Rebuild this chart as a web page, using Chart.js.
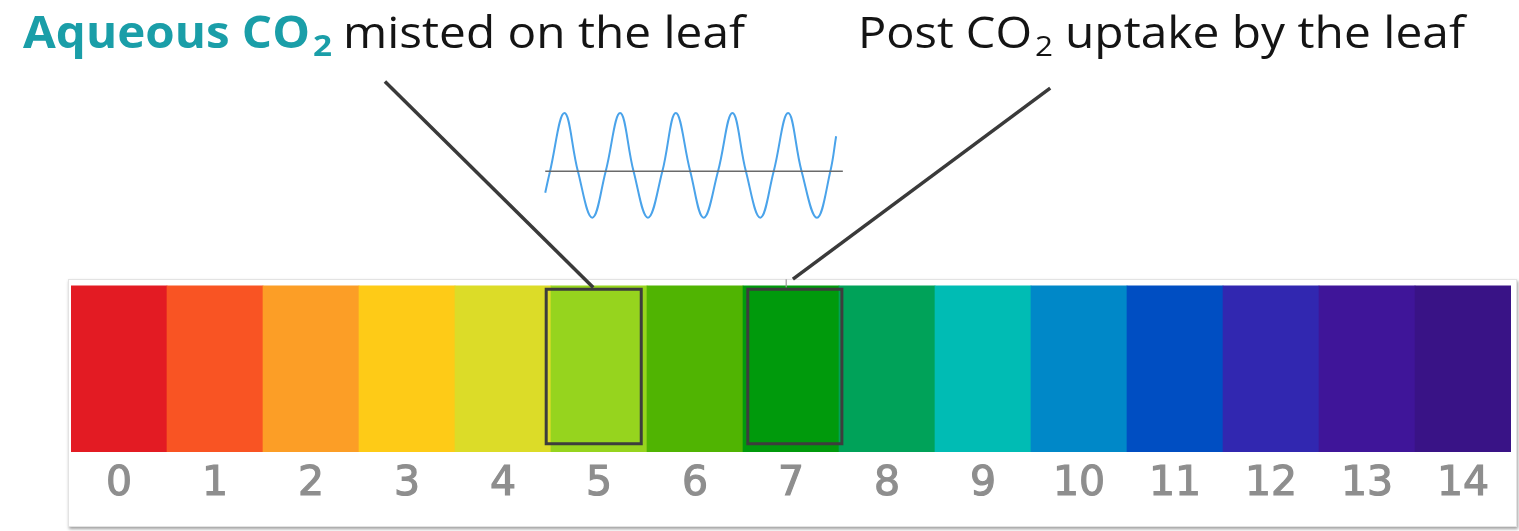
<!DOCTYPE html>
<html><head><meta charset="utf-8">
<script src="https://cdn.jsdelivr.net/npm/chart.js@4/dist/chart.umd.min.js"></script>
<style>
html,body{margin:0;padding:0;background:#fff;}
#wrap{position:relative;width:1519px;height:531px;overflow:hidden;}
#panel{position:absolute;left:68px;top:279px;width:1447px;height:246px;background:#fff;border:1px solid #e3e3e3;box-shadow:1px 2px 3px rgba(0,0,0,0.38);}
canvas{position:absolute;left:0;top:0;}
</style></head><body>
<div id="wrap"><div id="panel"></div><canvas id="c" width="1519" height="531"></canvas></div>
<script>
// ---- data ----
const phLabels = ['0','1','2','3','4','5','6','7','8','9','10','11','12','13','14'];
const phValues = [1,1,1,1,1,1,1,1,1,1,1,1,1,1,1];
const phColors = ['#e31b23','#f95423','#fc9e26','#fecb17','#dcdc28','#96d41e','#50b402','#009a0c',
                  '#00a259','#00bcb4','#0088c8','#004ec2','#3127b0','#3f1599','#391386'];

// highlight boxes (pH 5 = misted, pH 7 = post uptake)
const box5X = [4.45, 5.44];
const box7X = [6.55, 7.53];
const boxY  = [0.05, 0.98];

// decorative wave
const waveX = [4.44,4.49,4.64,4.78,4.93,5.07,5.22,5.36,5.51,5.66,5.80,5.95,6.09,6.24,6.39,6.53,6.68,6.82,6.97,7.11,7.27,7.41,7.47];
const waveY = [1.56,1.69,2.04,1.69,1.41,1.69,2.04,1.69,1.41,1.69,2.04,1.69,1.41,1.69,2.04,1.69,1.41,1.69,2.04,1.69,1.41,1.69,1.90];
const baseX = [4.44, 7.54];
const baseY = [1.69, 1.69];

// leader lines
const leader1X = [2.77, 4.94];
const leader1Y = [2.23, 0.99];
const leader2X = [9.70, 7.02];
const leader2Y = [2.19, 1.04];
const tickX = [6.95, 6.95];
const tickY = [1.04, 0.99];

// titles
const leftStrong = 'Aqueous CO';
const leftSub = '2';
const leftRest = 'misted on the leaf';
const rightStart = 'Post CO';
const rightSub = '2';
const rightRest = 'uptake by the leaf';

// ---- helpers ----
const pts = (xs, ys) => xs.map((x, i) => ({x: x, y: ys[i]}));
const rect = (xs, ys) => [
  {x: xs[0], y: ys[0]}, {x: xs[1], y: ys[0]}, {x: xs[1], y: ys[1]},
  {x: xs[0], y: ys[1]}, {x: xs[0], y: ys[0]}, {x: xs[1], y: ys[0]}
];
const lineDs = (data, color, width, extra) => Object.assign({
  type: 'line', data: data, xAxisID: 'xl', yAxisID: 'y',
  borderColor: color, borderWidth: width, pointRadius: 0, fill: false,
  tension: 0, order: 1
}, extra || {});

function drawRun(ctx, text, font, color, x0, x1, baseline) {
  ctx.font = font;
  const w = ctx.measureText(text).width;
  const s = (x1 - x0) / w;
  ctx.save();
  ctx.translate(x0, baseline);
  ctx.scale(s, 1);
  ctx.fillStyle = color;
  ctx.textBaseline = 'alphabetic';
  ctx.textAlign = 'left';
  ctx.fillText(text, 0, 0);
  ctx.restore();
}

const titlesPlugin = {
  id: 'titles',
  afterDraw(chart) {
    const ctx = chart.ctx;
    const teal = '#1a9ea8', dark = '#141414';
    drawRun(ctx, leftStrong, 'bold 44px "Open Sans"', teal, 23, 310, 48);
    drawRun(ctx, leftSub, 'bold 28px "Open Sans"', teal, 313, 332, 56);
    drawRun(ctx, leftRest, '43px "Open Sans"', dark, 343, 745, 48);
    drawRun(ctx, rightStart, '43px "Open Sans"', dark, 858, 1032, 48);
    drawRun(ctx, rightSub, '27px "Open Sans"', dark, 1035, 1053, 56);
    drawRun(ctx, rightRest, '43px "Open Sans"', dark, 1065, 1465, 48);
  }
};

new Chart(document.getElementById('c'), {
  type: 'bar',
  data: {
    labels: phLabels,
    datasets: [
      lineDs(rect(box5X, boxY), '#3d3d3d', 3, {borderJoinStyle: 'miter'}),
      lineDs(rect(box7X, boxY), '#3d3d3d', 3, {borderJoinStyle: 'miter'}),
      lineDs(pts(leader1X, leader1Y), '#3a3a3a', 3.5),
      lineDs(pts(leader2X, leader2Y), '#3a3a3a', 3.5),
      lineDs(pts(tickX, tickY), '#9a9a9a', 1.2),
      lineDs(pts(baseX, baseY), '#6a6a6a', 1.5),
      lineDs(pts(waveX, waveY), '#4aa3ea', 2, {tension: 0.4}),
      {
        type: 'bar', data: phValues, xAxisID: 'x', yAxisID: 'y',
        backgroundColor: phColors, borderWidth: 0, grouped: false,
        barPercentage: 1.0, categoryPercentage: 1.0, order: 2
      }
    ]
  },
  options: {
    responsive: false,
    devicePixelRatio: 1,
    animation: false,
    events: [],
    layout: {padding: {left: 71, right: 8, top: 0, bottom: 0}},
    plugins: {legend: {display: false}, tooltip: {enabled: false}, title: {display: false}},
    scales: {
      x: {
        type: 'category', position: 'bottom', offset: true,
        grid: {display: false, drawTicks: false}, border: {display: false},
        ticks: {color: '#8e8e8e', font: {family: 'DejaVu Sans', size: 41}, padding: 8,
                textStrokeColor: '#8e8e8e', textStrokeWidth: 1.2,
                maxRotation: 0, autoSkip: false},
        afterFit(scale) { scale.height = 79; }
      },
      xl: {
        type: 'linear', display: false, min: -0.5, max: 14.5,
        offset: false, grid: {offset: false}, bounds: 'ticks'
      },
      y: {
        type: 'linear', display: false, min: 0, max: 2.72
      }
    }
  },
  plugins: [titlesPlugin]
});
</script>
</body></html>
